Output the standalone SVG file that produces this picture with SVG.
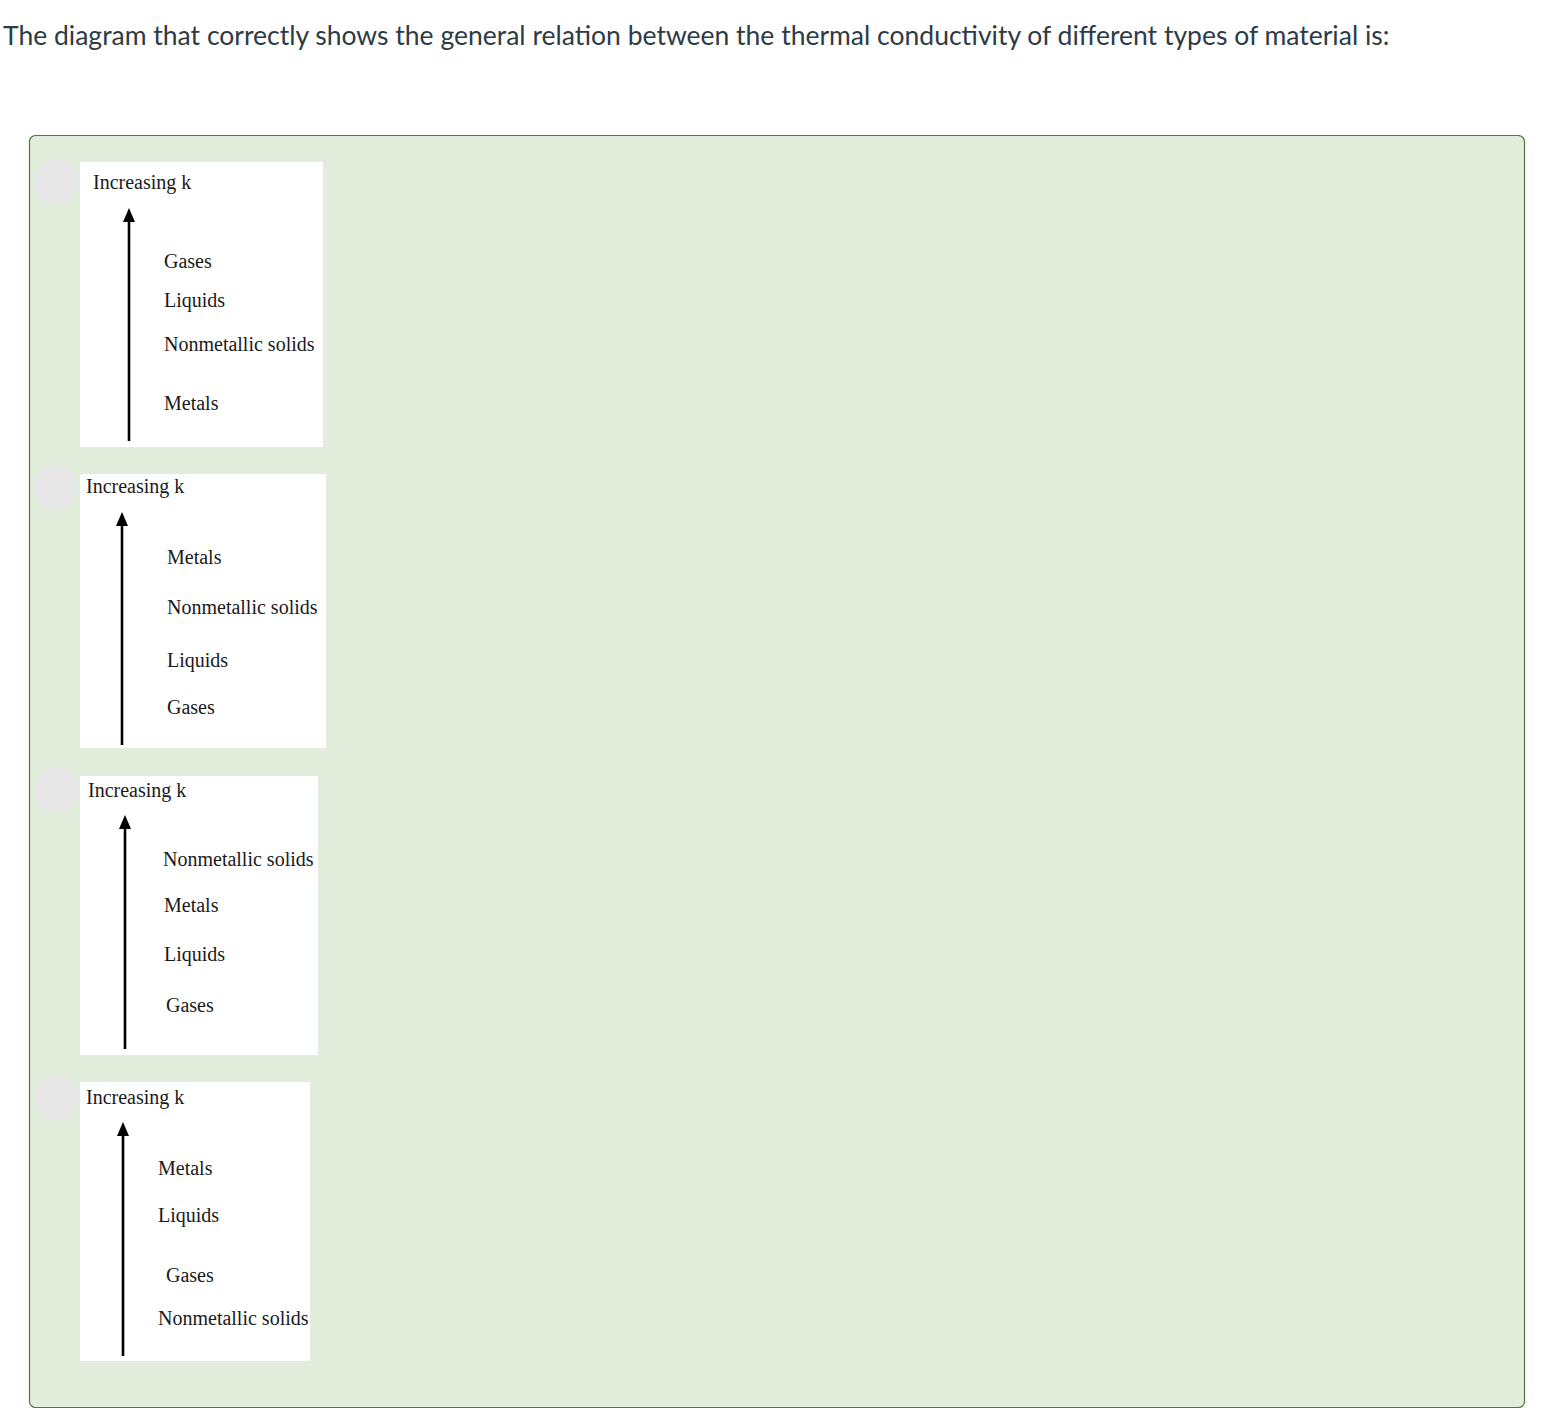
<svg xmlns="http://www.w3.org/2000/svg" width="1544" height="1428" viewBox="0 0 1544 1428">
<style>
.title{font-family:Lato,"Open Sans","Liberation Sans",sans-serif;font-size:26.5px;fill:#2d3b45}
.lbl{font-family:"Liberation Serif","DejaVu Serif",serif;font-size:20px;fill:#1a1a1a}
.panel{fill:#ffffff}
.dot{fill:#e8e8e8}
.arr{stroke:#000;stroke-width:2.6;fill:none}
</style>
<defs>
<marker id="ah" markerUnits="userSpaceOnUse" markerWidth="14" markerHeight="12" refX="0" refY="6" orient="auto" viewBox="0 0 14 12">
<path d="M0 0 L14 6 L0 12 Z" fill="#000"/>
</marker>
</defs>
<rect width="1544" height="1428" fill="#fff"/>
<text class="title" x="3" y="45">The diagram that correctly shows the general relation between the thermal conductivity of different types of material is:</text>
<rect x="29.5" y="135.5" width="1495" height="1272" rx="6" fill="#e2eedb" stroke="#4c7a3c" stroke-width="1.2"/>

<g id="option1">
<circle class="dot" cx="56" cy="182" r="22.5"/>
<rect class="panel" x="80" y="162" width="243" height="285"/>
<text class="lbl" x="93" y="189">Increasing k</text>
<text class="lbl" x="164" y="268">Gases</text>
<text class="lbl" x="164" y="307">Liquids</text>
<text class="lbl" x="164" y="351">Nonmetallic solids</text>
<text class="lbl" x="164" y="410">Metals</text>
</g>
<g id="option2">
<circle class="dot" cx="55" cy="487" r="22.5"/>
<rect class="panel" x="80" y="474" width="246" height="274"/>
<text class="lbl" x="86" y="493">Increasing k</text>
<text class="lbl" x="167" y="564">Metals</text>
<text class="lbl" x="167" y="614">Nonmetallic solids</text>
<text class="lbl" x="167" y="667">Liquids</text>
<text class="lbl" x="167" y="714">Gases</text>
</g>
<g id="option3">
<circle class="dot" cx="57" cy="790" r="22.5"/>
<rect class="panel" x="80" y="776" width="238" height="279"/>
<text class="lbl" x="88" y="797">Increasing k</text>
<text class="lbl" x="163" y="866">Nonmetallic solids</text>
<text class="lbl" x="164" y="912">Metals</text>
<text class="lbl" x="164" y="961">Liquids</text>
<text class="lbl" x="166" y="1012">Gases</text>
</g>
<g id="option4">
<circle class="dot" cx="57" cy="1098" r="22.5"/>
<rect class="panel" x="80" y="1082" width="230" height="279"/>
<text class="lbl" x="86" y="1104">Increasing k</text>
<text class="lbl" x="158" y="1175">Metals</text>
<text class="lbl" x="158" y="1222">Liquids</text>
<text class="lbl" x="166" y="1282">Gases</text>
<text class="lbl" x="158" y="1325">Nonmetallic solids</text>
</g>
<g id="connectors">
<line class="arr" x1="129" y1="441" x2="129" y2="222" marker-end="url(#ah)"/>
<line class="arr" x1="122" y1="745" x2="122" y2="526" marker-end="url(#ah)"/>
<line class="arr" x1="125" y1="1049" x2="125" y2="829" marker-end="url(#ah)"/>
<line class="arr" x1="123" y1="1356" x2="123" y2="1136" marker-end="url(#ah)"/>
</g>
</svg>
